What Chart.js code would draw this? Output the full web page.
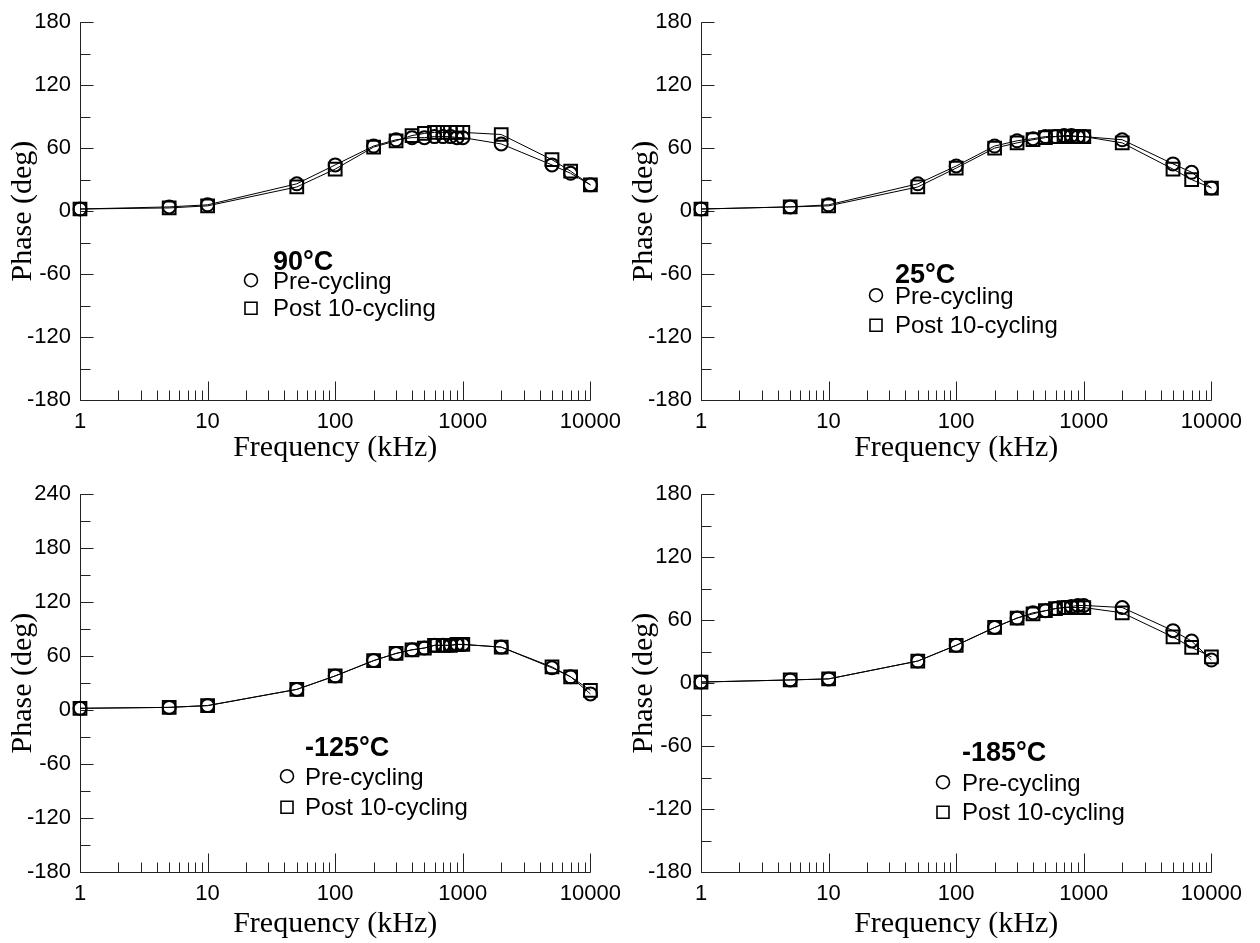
<!DOCTYPE html>
<html>
<head>
<meta charset="utf-8">
<title>Phase vs frequency</title>
<script src="https://cdn.jsdelivr.net/npm/chart.js@4.4.1/dist/chart.umd.min.js"></script>
<style>
  body { margin: 0; background: #fff; }
  #wrap { position: relative; width: 1260px; height: 943px; }
  #wrap canvas { position: absolute; }
</style>
</head>
<body>
<div id="wrap">
  <canvas id="c90" width="630" height="470" style="left:0;top:0"></canvas>
  <canvas id="c25" width="630" height="470" style="left:621px;top:0"></canvas>
  <canvas id="c125" width="630" height="470" style="left:0;top:472px"></canvas>
  <canvas id="c185" width="630" height="470" style="left:621px;top:472px"></canvas>
</div>
<script>
'use strict';

//========== Data ==========
let freqs = [1, 5, 10, 50, 100, 200, 300, 400, 500, 600, 700, 800, 900, 1000, 2000, 5000, 7000, 10000];
let xTicks = [1, 10, 100, 1000, 10000];

let pre90 = [2, 4, 6, 26, 44, 62, 68, 70, 70, 71, 71, 71, 70, 70, 64, 44, 36, 25];
let post90 = [2, 3, 5, 23, 40, 61, 67, 72, 74, 75, 75, 75, 75, 75, 73, 49, 38, 25];

let pre25 = [2, 4, 6, 26, 43, 62, 67, 69, 71, 71, 72, 72, 71, 71, 68, 45, 37, 22];
let post25 = [2, 4, 5, 23, 41, 60, 65, 68, 70, 71, 71, 71, 71, 71, 65, 40, 30, 22];

let pre125 = [2, 3, 5, 23, 38, 55, 63, 67, 69, 72, 72, 72, 73, 73, 70, 47, 37, 18];
let post125 = [2, 3, 5, 23, 38, 55, 63, 67, 69, 72, 72, 72, 73, 73, 70, 48, 37, 22];

let pre185 = [1, 3, 4, 21, 36, 53, 62, 67, 69, 71, 72, 73, 74, 74, 72, 50, 40, 22];
let post185 = [1, 3, 4, 21, 36, 53, 62, 66, 69, 71, 72, 72, 72, 72, 67, 44, 34, 25];

let seriesNames = ['Pre-cycling', 'Post 10-cycling'];
let xTitle = 'Frequency (kHz)';
let yTitle = 'Phase (deg)';

//========== Fonts ==========
let sans = '"Liberation Sans", Arial, sans-serif';
let serif = '"Liberation Serif", "Times New Roman", serif';

//========== Plugins ==========
// left/bottom axis lines with inward major and minor ticks
let axisFrame = {
  id: 'axisFrame',
  beforeDatasetsDraw(chart) {
    let ctx = chart.ctx;
    let a = chart.chartArea;
    let xs = chart.scales.x;
    let ys = chart.scales.y;
    let left = Math.round(a.left) + 0.5;
    let bottom = Math.round(a.bottom) + 0.5;
    ctx.save();
    ctx.strokeStyle = '#222';
    ctx.lineWidth = 1;
    ctx.beginPath();
    ctx.moveTo(left, a.top);
    ctx.lineTo(left, bottom);
    ctx.lineTo(Math.round(a.right) + 0.5, bottom);
    for (let d = 0; d < 4; d++) {
      for (let k = 1; k < 10; k++) {
        let px = Math.round(xs.getPixelForValue(Math.pow(10, d) * k)) + 0.5;
        let len = k === 1 ? 19 : 10;
        ctx.moveTo(px, bottom);
        ctx.lineTo(px, bottom - len);
      }
    }
    let endX = Math.round(xs.getPixelForValue(10000)) + 0.5;
    ctx.moveTo(endX, bottom);
    ctx.lineTo(endX, bottom - 19);
    for (let v = ys.min; v <= ys.max; v += 30) {
      let py = Math.round(ys.getPixelForValue(v)) + 0.5;
      let len = v % 60 === 0 ? 13 : 10;
      ctx.moveTo(left, py);
      ctx.lineTo(left + len, py);
    }
    ctx.stroke();
    ctx.restore();
  }
};

// temperature label and marker key inside the plot
let tempKey = {
  id: 'tempKey',
  afterDraw(chart, args, opts) {
    let ctx = chart.ctx;
    let a = chart.chartArea;
    let tx = a.left + opts.textX;
    let mx = a.left + opts.markX;
    ctx.save();
    ctx.fillStyle = '#000';
    ctx.strokeStyle = '#000';
    ctx.textAlign = 'left';
    ctx.textBaseline = 'middle';
    ctx.font = 'bold 27px ' + sans;
    ctx.fillText(opts.title, tx, a.top + opts.titleY);
    ctx.font = '24px ' + sans;
    ctx.lineWidth = 1.6;
    for (let i = 0; i < seriesNames.length; i++) {
      let ry = a.top + opts.rows[i];
      ctx.fillText(seriesNames[i], tx, ry + 1);
      ctx.beginPath();
      if (i === 0) {
        ctx.arc(mx, ry - 1, 6.5, 0, Math.PI * 2);
      } else {
        ctx.rect(mx - 6, ry - 6, 12, 12);
      }
      ctx.stroke();
    }
    ctx.restore();
  }
};

//========== Chart Builder ==========
function makePanel(canvasId, pre, post, yMin, yMax, key, titlePad) {
  let toPoints = vals => freqs.map((f, i) => ({ x: f, y: vals[i] }));
  let ctx = document.getElementById(canvasId).getContext('2d');
  return new Chart(ctx, {
    type: 'line',
    data: {
      datasets: [{
        label: seriesNames[0],
        data: toPoints(pre),
        borderColor: '#000',
        borderWidth: 1,
        pointStyle: 'circle',
        pointRadius: 6.5,
        pointBorderWidth: 2,
        pointBackgroundColor: 'rgba(0,0,0,0)',
        pointBorderColor: '#000',
        clip: false
      },
      {
        label: seriesNames[1],
        data: toPoints(post),
        borderColor: '#000',
        borderWidth: 1,
        pointStyle: 'rect',
        pointRadius: 9,
        pointBorderWidth: 2,
        pointBackgroundColor: 'rgba(0,0,0,0)',
        pointBorderColor: '#000',
        clip: false
      }]
    },
    options: {
      responsive: false,
      animation: false,
      devicePixelRatio: 1,
      layout: { padding: { left: 0, top: 22, right: 31, bottom: 0 } },
      plugins: {
        legend: { display: false },
        tooltip: { enabled: false },
        tempKey: key
      },
      scales: {
        x: {
          type: 'logarithmic',
          min: 1,
          max: 10000,
          afterBuildTicks: scale => { scale.ticks = xTicks.map(v => ({ value: v })); },
          afterFit: scale => { scale.height = 70; },
          grid: { display: false, drawTicks: false },
          border: { display: false },
          ticks: {
            color: '#000',
            padding: 9,
            maxRotation: 0,
            autoSkip: false,
            font: { family: sans, size: 22 },
            callback: v => String(v)
          },
          title: {
            display: true,
            text: xTitle,
            color: '#000',
            font: { family: serif, size: 30 },
            padding: { top: 0, bottom: titlePad }
          }
        },
        y: {
          min: yMin,
          max: yMax,
          afterFit: scale => { scale.width = 80; },
          grid: { display: false, drawTicks: false },
          border: { display: false },
          ticks: {
            stepSize: 60,
            color: '#000',
            padding: 9,
            font: { family: sans, size: 22 }
          },
          title: {
            display: true,
            text: yTitle,
            color: '#000',
            font: { family: serif, size: 30 },
            padding: { top: 5, bottom: 0 }
          }
        }
      }
    },
    plugins: [axisFrame, tempKey]
  });
}

//========== Panels ==========
makePanel('c90', pre90, post90, -180, 180,
  { title: '90°C', textX: 193, markX: 171, titleY: 240, rows: [259, 286] }, 4);
makePanel('c25', pre25, post25, -180, 180,
  { title: '25°C', textX: 194, markX: 175, titleY: 253, rows: [274, 303] }, 4);
makePanel('c125', pre125, post125, -180, 240,
  { title: '-125°C', textX: 225, markX: 207, titleY: 254, rows: [283, 313] }, 0);
makePanel('c185', pre185, post185, -180, 180,
  { title: '-185°C', textX: 261, markX: 242, titleY: 259, rows: [289, 318] }, 0);
</script>
</body>
</html>
